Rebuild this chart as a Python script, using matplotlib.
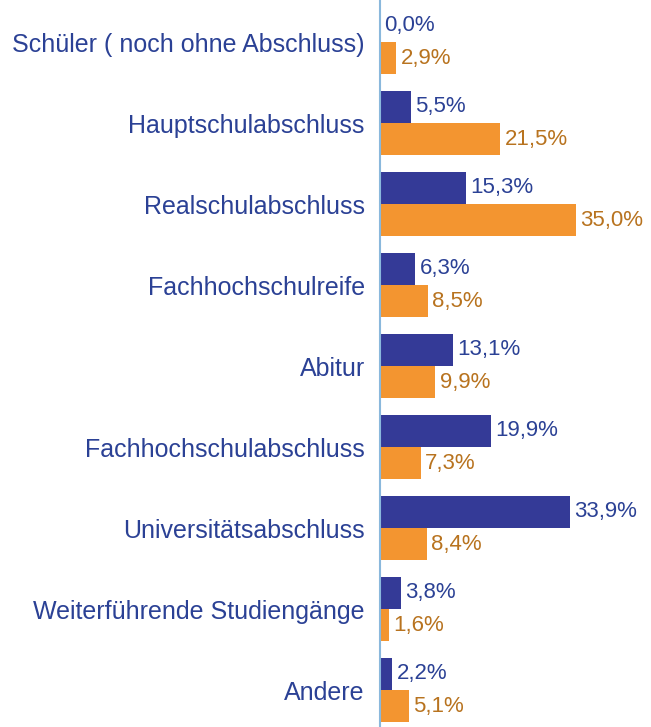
import matplotlib
matplotlib.use("Agg")
import matplotlib.pyplot as plt
import numpy as np

categories = ["Schüler ( noch ohne Abschluss)", "Hauptschulabschluss", "Realschulabschluss",
              "Fachhochschulreife", "Abitur", "Fachhochschulabschluss",
              "Universitätsabschluss", "Weiterführende Studiengänge", "Andere"]
blue_vals = [0.0, 5.5, 15.3, 6.3, 13.1, 19.9, 33.9, 3.8, 2.2]
orange_vals = [2.9, 21.5, 35.0, 8.5, 9.9, 7.3, 8.4, 1.6, 5.1]

plt.rcParams['font.family'] = ['Liberation Sans', 'DejaVu Sans']

W, H = 651, 727
fig = plt.figure(figsize=(W / 100, H / 100), dpi=100)
ax = fig.add_axes([380 / W, 0, (W - 380) / W, 1])

blue = "#343a97"
orange = "#f39530"
blue_txt = "#2b4195"
orange_txt = "#b8731f"

y = np.arange(len(categories))
h = 0.40
ax.barh(y - h / 2, blue_vals, height=h, color=blue, linewidth=0)
ax.barh(y + h / 2, orange_vals, height=h, color=orange, linewidth=0)

for i, (b, o) in enumerate(zip(blue_vals, orange_vals)):
    ax.annotate(f"{b:.1f}%".replace(".", ","), (b, i - h / 2), xytext=(3, 0),
                textcoords="offset points", va="center", ha="left",
                fontsize=16, color=blue_txt)
    ax.annotate(f"{o:.1f}%".replace(".", ","), (o, i + h / 2), xytext=(3, 0),
                textcoords="offset points", va="center", ha="left",
                fontsize=16, color=orange_txt)

ax.set_xlim(0, (W - 381) / 5.58)
ax.set_ylim(8 + 37 / 81, -42 / 81)
ax.set_yticks(y)
ax.set_yticklabels(categories, fontsize=18, color=blue_txt)
ax.tick_params(axis='y', length=0, pad=11)
ax.set_xticks([])
for s in ["top", "right", "bottom"]:
    ax.spines[s].set_visible(False)
ax.spines["left"].set_color("#8ab8dc")
ax.spines["left"].set_linewidth(1.5)

fig.savefig("out.png", dpi=100)
